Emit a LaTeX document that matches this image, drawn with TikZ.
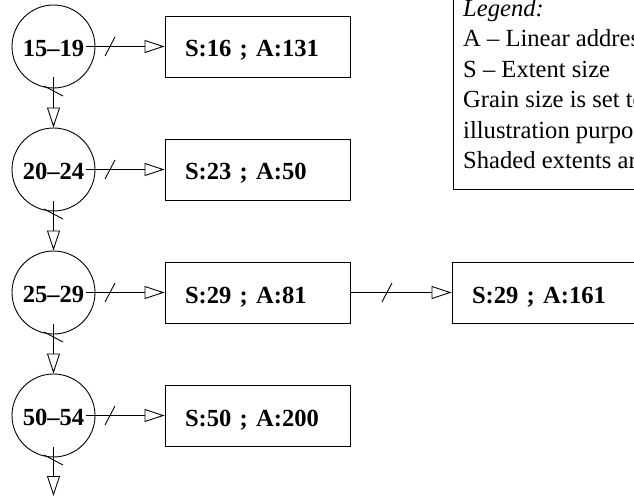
\documentclass[tikz,border=0pt]{standalone}
\usepackage{fontspec}
\setmainfont{Liberation Serif}
\usetikzlibrary{arrows.meta,decorations.markings}

\tikzset{
  every picture/.style={x=1pt, y=1pt},
  labelfont/.style={font=\fontsize{24.6pt}{30.4pt}\selectfont},
  sizerange/.style={circle, draw, line width=0.9pt, minimum size=83pt, inner sep=0pt,
    font=\fontsize{24.6pt}{30.4pt}\selectfont\bfseries,
    text height=20.6pt, text depth=0pt},
  extentbox/.style={rectangle, draw, line width=0.9pt, minimum height=61pt,
    text width=145pt, inner xsep=20pt, inner ysep=0pt, align=left,
    font=\fontsize{24.6pt}{30.4pt}\selectfont\bfseries,
    text height=21pt, text depth=0pt},
  pointer/.style={line width=0.9pt, -{Triangle[open, length=20pt, width=13pt]}},
  slashat/.style={postaction={decorate}, decoration={markings,
    mark=at position #1 with {\draw[arrows=-, line width=0.9pt] (-5pt,-9.5pt) -- (5pt,9.5pt);}}},
}

\begin{document}
\begin{tikzpicture}
\useasboundingbox (0,0) rectangle (634,-497);
\clip (0,0) rectangle (634,-497);

% legend (runs past the upper and right edges)
\node[draw, line width=0.9pt, anchor=south west, minimum width=260pt,
      minimum height=240pt, inner sep=0pt] (legendbox) at (453,-190) {};
\node[anchor=north west, align=left, inner sep=0pt, labelfont] (legendtext) at (463,0.8)
  {\textit{Legend:}\\A – Linear address\\S – Extent size\\Grain size is set to\\illustration purposes\\Shaded extents are};

% size-range list
\node[sizerange] (c1) at (53.5,-46.5)  {15–19};
\node[sizerange] (c2) at (53.5,-169.5) {20–24};
\node[sizerange] (c3) at (53.5,-292.5) {25–29};
\node[sizerange] (c4) at (53.5,-415.5) {50–54};
\coordinate (tail) at (53.5,-496);

% extents
\node[extentbox] (b1) at (257.5,-46.5)  {S:16 ; A:131};
\node[extentbox] (b2) at (257.5,-169.5) {S:23 ; A:50};
\node[extentbox] (b3) at (257.5,-292.5) {S:29 ; A:81};
\node[extentbox] (b4) at (544.5,-292.5) {S:29 ; A:161};
\node[extentbox] (b5) at (257.5,-415.5) {S:50 ; A:200};

% range -> extent pointers
\draw[pointer, slashat=24.5pt] ([xshift=32pt]c1.center) -- (b1.west);
\draw[pointer, slashat=24.5pt] ([xshift=32pt]c2.center) -- (b2.west);
\draw[pointer, slashat=24.5pt] ([xshift=32pt]c3.center) -- (b3.west);
\draw[pointer, slashat=24.5pt] ([xshift=32pt]c4.center) -- (b5.west);

% range -> next range
\draw[pointer, slashat=13.5pt] ([yshift=-31pt]c1.center) -- (c2.north);
\draw[pointer, slashat=13.5pt] ([yshift=-31pt]c2.center) -- (c3.north);
\draw[pointer, slashat=13.5pt] ([yshift=-31pt]c3.center) -- (c4.north);
\draw[pointer, slashat=13.5pt] ([yshift=-31pt]c4.center) -- (tail);

% extent -> next extent of the same size
\draw[pointer, slashat=36.5pt] (b3.east) -- (b4.west);
\end{tikzpicture}
\end{document}
